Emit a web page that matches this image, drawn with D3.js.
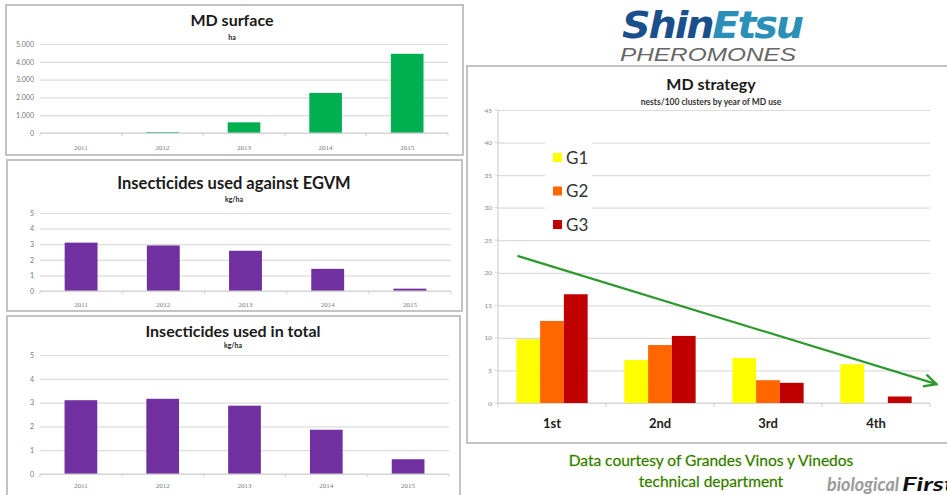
<!DOCTYPE html>
<html>
<head>
<meta charset="utf-8">
<script src="https://cdn.jsdelivr.net/npm/d3@7"></script>
<style>
  body { margin: 0; background: #fff; }
  text { font-family: Lato, "Open Sans", sans-serif; }
</style>
</head>
<body>
<div id="chart"></div>
<script>
// data
var years = ["2011", "2012", "2013", "2014", "2015"];
var mdSurface = [0, 50, 600, 2250, 4450];
var insEgvm = [3.1, 2.92, 2.58, 1.42, 0.15];
var insTotal = [3.1, 3.16, 2.87, 1.86, 0.62];

var mdYears = ["1st", "2nd", "3rd", "4th"];
var groups = ["G1", "G2", "G3"];
var g1 = [9.8, 6.6, 6.9, 5.95];
var g2 = [12.6, 8.9, 3.5, 0];
var g3 = [16.7, 10.3, 3.1, 1.0];
// trend arrow: [category position, value]
var trend = [[0.18, 22.6], [4.06, 2.9]];

var colors = {G1: "#ffff00", G2: "#ff6600", G3: "#c00000"};

var svg = d3.select("#chart")
  .append("svg")
    .attr("width", 947)
    .attr("height", 495);

svg.append("rect").attr("width", 947).attr("height", 495).attr("fill", "#fff");

var dotFormat = d3.formatLocale({decimal: ",", thousands: ".", grouping: [3], currency: ["", ""]}).format(",");

// panel frames
function frame(x, y, w, h) {
  svg.append("rect")
    .attr("x", x).attr("y", y)
    .attr("width", w).attr("height", h)
    .attr("fill", "none")
    .attr("stroke", "#b4b4b4")
    .attr("stroke-width", 1.6);
}
frame(6, 5, 457, 150);
frame(7, 160, 455, 151);
frame(7, 316, 453, 190);
frame(467, 66, 490, 377);

// small bar chart
function smallChart(opt) {
  var x = d3.scaleBand()
    .domain(years)
    .range([opt.left, opt.right])
    .paddingInner(0.6)
    .paddingOuter(0.3);

  var y = d3.scaleLinear()
    .domain([0, opt.max])
    .range([opt.bottom, opt.top]);

  var g = svg.append("g");

  // grid
  g.append("g")
    .attr("transform", "translate(" + opt.left + ",0)")
    .call(d3.axisLeft(y).ticks(5).tickSize(-(opt.right - opt.left)).tickFormat(opt.format))
    .call(function(a) {
      a.select(".domain").remove();
      a.selectAll("line").attr("stroke", "#dcdcdc").attr("stroke-width", 1.2);
      a.selectAll("text").attr("fill", "#777").style("font-size", "7px").attr("x", -6);
    });

  // bars
  g.append("g")
    .selectAll("rect")
    .data(opt.values)
    .enter()
    .append("rect")
      .attr("x", function(d, i) { return x(years[i]); })
      .attr("y", function(d) { return y(d); })
      .attr("width", x.bandwidth())
      .attr("height", function(d) { return opt.bottom - y(d); })
      .attr("fill", opt.color);

  // x axis
  var xa = g.append("g");
  xa.append("line")
    .attr("x1", opt.left).attr("x2", opt.right)
    .attr("y1", opt.bottom).attr("y2", opt.bottom)
    .attr("stroke", "#d0d0d0").attr("stroke-width", 1.2);
  xa.selectAll(".tk")
    .data(d3.range(years.length + 1))
    .enter()
    .append("line")
      .attr("x1", function(i) { return opt.left + i * x.step(); })
      .attr("x2", function(i) { return opt.left + i * x.step(); })
      .attr("y1", opt.bottom).attr("y2", opt.bottom + 3)
      .attr("stroke", "#d0d0d0");
  xa.selectAll(".lbl")
    .data(years)
    .enter()
    .append("text")
      .attr("x", function(d) { return x(d) + x.bandwidth() / 2; })
      .attr("y", opt.bottom + opt.labelDy)
      .attr("text-anchor", "middle")
      .attr("fill", "#777")
      .style("font-size", "7px")
      .style("font-family", "'Liberation Serif', serif")
      .text(function(d) { return d; });

  // titles
  g.append("text")
    .attr("x", opt.titleX).attr("y", opt.titleY)
    .attr("text-anchor", "middle")
    .attr("fill", "#1a1a1a")
    .style("font-size", opt.titleSize + "px")
    .style("font-weight", "bold")
    .text(opt.title);
  g.append("text")
    .attr("x", opt.titleX).attr("y", opt.subY)
    .attr("text-anchor", "middle")
    .attr("fill", "#222")
    .style("font-size", "7px")
    .style("font-weight", "bold")
    .text(opt.sub);
}

smallChart({values: mdSurface, max: 5000, left: 40, right: 448, top: 44, bottom: 133,
  color: "#00b050", format: dotFormat, labelDy: 17,
  title: "MD surface", sub: "ha", titleX: 232, titleY: 26, subY: 40, titleSize: 16});

smallChart({values: insEgvm, max: 5, left: 40, right: 451, top: 213, bottom: 291,
  color: "#7030a0", format: d3.format("d"), labelDy: 16,
  title: "Insecticides used against EGVM", sub: "kg/ha", titleX: 234, titleY: 189, subY: 202, titleSize: 16.5});

smallChart({values: insTotal, max: 5, left: 40, right: 449, top: 355, bottom: 474,
  color: "#7030a0", format: d3.format("d"), labelDy: 14,
  title: "Insecticides used in total", sub: "kg/ha", titleX: 233, titleY: 337, subY: 348, titleSize: 16});

// MD strategy chart
var mLeft = 498, mRight = 930, mTop = 110, mBottom = 403;

var x0 = d3.scaleBand()
  .domain(mdYears)
  .range([mLeft, mRight])
  .paddingInner(0.34)
  .paddingOuter(0.17);

var x1 = d3.scaleBand()
  .domain(groups)
  .range([0, x0.bandwidth()]);

var yMd = d3.scaleLinear()
  .domain([0, 45])
  .range([mBottom, mTop]);

var xi = d3.scaleLinear().domain([0, mdYears.length]).range([mLeft, mRight]);

var chart = svg.append("g");

chart.append("g")
  .attr("transform", "translate(" + mLeft + ",0)")
  .call(d3.axisLeft(yMd).ticks(9).tickSize(-(mRight - mLeft)).tickPadding(6))
  .call(function(a) {
    a.select(".domain").remove();
    a.selectAll("line").attr("stroke", "#dcdcdc").attr("stroke-width", 1.2);
    a.selectAll("text").attr("fill", "#888").style("font-size", "6.5px");
  });
// left axis line and tick stubs
chart.append("line")
  .attr("x1", mLeft).attr("x2", mLeft).attr("y1", mTop).attr("y2", mBottom)
  .attr("stroke", "#d0d0d0").attr("stroke-width", 1.2);
chart.append("g").selectAll("line")
  .data(yMd.ticks(9))
  .enter()
  .append("line")
    .attr("x1", mLeft - 3).attr("x2", mLeft)
    .attr("y1", function(d) { return yMd(d); }).attr("y2", function(d) { return yMd(d); })
    .attr("stroke", "#d0d0d0");
chart.append("line")
  .attr("x1", mLeft).attr("x2", mRight).attr("y1", mBottom).attr("y2", mBottom)
  .attr("stroke", "#d0d0d0").attr("stroke-width", 1.2);
chart.append("g").selectAll("line")
  .data(d3.range(mdYears.length + 1))
  .enter()
  .append("line")
    .attr("x1", function(i) { return xi(i); }).attr("x2", function(i) { return xi(i); })
    .attr("y1", mBottom).attr("y2", mBottom + 4)
    .attr("stroke", "#d0d0d0");

// legend background
chart.append("rect")
  .attr("x", 545).attr("y", 128).attr("width", 47).attr("height", 107)
  .attr("fill", "#fff");

var series = {G1: g1, G2: g2, G3: g3};

chart.append("g")
  .selectAll("g")
  .data(mdYears)
  .enter()
  .append("g")
    .attr("transform", function(d) { return "translate(" + x0(d) + ",0)"; })
  .selectAll("rect")
  .data(function(d, i) { return groups.map(function(k) { return {key: k, value: series[k][i]}; }); })
  .enter()
  .append("rect")
    .attr("x", function(d) { return x1(d.key); })
    .attr("y", function(d) { return yMd(d.value); })
    .attr("width", x1.bandwidth())
    .attr("height", function(d) { return mBottom - yMd(d.value); })
    .attr("fill", function(d) { return colors[d.key]; });

chart.append("g")
  .selectAll("text")
  .data(mdYears)
  .enter()
  .append("text")
    .attr("x", function(d) { return x0(d) + x0.bandwidth() / 2; })
    .attr("y", 428)
    .attr("text-anchor", "middle")
    .attr("fill", "#222")
    .style("font-size", "13px")
    .style("font-weight", "bold")
    .text(function(d) { return d; });

// legend
var legend = chart.append("g")
  .selectAll("g")
  .data(groups)
  .enter()
  .append("g")
    .attr("transform", function(d, i) { return "translate(553," + (153 + i * 33.5) + ")"; });
legend.append("rect")
  .attr("width", 9).attr("height", 9)
  .attr("fill", function(d) { return colors[d]; });
legend.append("text")
  .attr("x", 13).attr("y", 10.5)
  .attr("fill", "#333")
  .style("font-size", "17px")
  .text(function(d) { return d; });

// titles
chart.append("text")
  .attr("x", 711).attr("y", 90)
  .attr("text-anchor", "middle")
  .attr("fill", "#1a1a1a")
  .style("font-size", "16px")
  .style("font-weight", "bold")
  .text("MD strategy");
chart.append("text")
  .attr("x", 711).attr("y", 105)
  .attr("text-anchor", "middle")
  .attr("fill", "#333")
  .style("font-size", "8.5px")
  .style("font-weight", "bold")
  .text("nests/100 clusters by year of MD use");

// trend arrow
svg.append("defs").append("marker")
  .attr("id", "head")
  .attr("viewBox", "0 0 10 10")
  .attr("refX", 9).attr("refY", 5)
  .attr("markerWidth", 7).attr("markerHeight", 7)
  .attr("orient", "auto")
  .append("path")
    .attr("d", "M1,1 L9,5 L1,9")
    .attr("fill", "none")
    .attr("stroke", "#2e9a2e")
    .attr("stroke-width", 1.6);

chart.append("path")
  .datum(trend)
  .attr("d", d3.line().x(function(d) { return xi(d[0]); }).y(function(d) { return yMd(d[1]); }))
  .attr("fill", "none")
  .attr("stroke", "#2e9a2e")
  .attr("stroke-width", 2.2)
  .attr("marker-end", "url(#head)");

// logo
var logo = svg.append("g");
logo.append("text")
  .attr("x", 622).attr("y", 38)
  .attr("textLength", 180)
  .attr("lengthAdjust", "spacingAndGlyphs")
  .style("font-family", "'DejaVu Sans', sans-serif")
  .style("font-size", "38px")
  .style("font-weight", "bold")
  .style("font-style", "italic")
  .style("letter-spacing", "-2px")
  .call(function(t) {
    t.append("tspan").attr("fill", "#1b4f8c").text("Shin");
    t.append("tspan").attr("fill", "#2a90b8").text("Etsu");
  });
logo.append("text")
  .attr("x", 620).attr("y", 61)
  .attr("textLength", 176)
  .attr("lengthAdjust", "spacingAndGlyphs")
  .attr("fill", "#666")
  .style("font-family", "'Liberation Sans', sans-serif")
  .style("font-size", "19px")
  .style("font-style", "italic")
  .text("PHEROMONES");

// credit text
var credit = svg.append("g")
  .attr("fill", "#1f7a1f")
  .style("font-size", "15.5px")
  .attr("text-anchor", "middle");
credit.append("text")
  .attr("x", 711).attr("y", 466)
  .attr("stroke", "#e8e27a").attr("stroke-width", 0.8)
  .style("paint-order", "stroke")
  .text("Data courtesy of Grandes Vinos y Vinedos");
credit.append("text")
  .attr("x", 711).attr("y", 487)
  .attr("stroke", "#e8e27a").attr("stroke-width", 0.8)
  .style("paint-order", "stroke")
  .text("technical department");

var brand = svg.append("g")
  .style("font-family", "'DejaVu Sans', sans-serif")
  .style("font-size", "19px")
  .style("font-weight", "bold")
  .style("font-style", "italic");
brand.append("text")
  .attr("x", 827).attr("y", 491)
  .attr("textLength", 72)
  .attr("lengthAdjust", "spacingAndGlyphs")
  .attr("fill", "#9a9a9a")
  .text("biological");
brand.append("text")
  .attr("x", 902).attr("y", 491)
  .attr("textLength", 52)
  .attr("lengthAdjust", "spacingAndGlyphs")
  .attr("fill", "#111")
  .text("First");
</script>
</body>
</html>
